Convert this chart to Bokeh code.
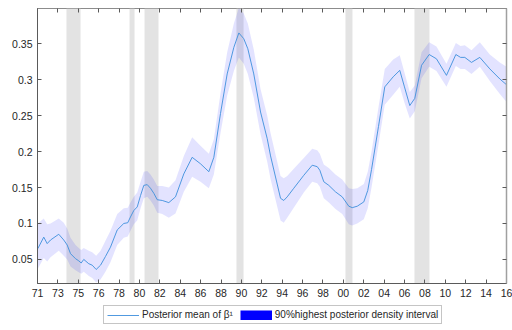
from bokeh.plotting import figure
from bokeh.layouts import column
from bokeh.models import (ColumnDataSource, Range1d, FixedTicker, LinearAxis,
                          Legend, LegendItem)
from bokeh.embed import file_html
from bokeh.resources import INLINE

# Time (decimal years) of the posterior series
years = [1971.03, 1971.60, 1971.93, 1972.25, 1973.04, 1973.52, 1973.85, 1974.17,
         1974.65, 1974.96, 1975.19, 1975.44, 1975.92, 1976.25, 1976.63, 1977.05,
         1977.52, 1978.00, 1978.65, 1979.28, 1979.66, 1979.92, 1980.24, 1980.57,
         1980.89, 1981.20, 1981.53, 1981.84, 1982.16, 1982.49, 1982.97, 1983.60,
         1984.24, 1985.04, 1985.84, 1986.64, 1987.44, 1987.92, 1988.56, 1989.20,
         1989.84, 1990.32, 1990.79, 1991.18, 1991.75, 1992.40, 1993.04, 1993.36,
         1994.32, 1994.63, 1994.96, 1995.59, 1996.55, 1997.36, 1997.84, 1998.09,
         1998.47, 1998.95, 1999.59, 2000.24, 2000.87, 2001.20, 2001.68, 2002.31,
         2002.69, 2003.05, 2003.72, 2004.32, 2005.13, 2005.76, 2006.21, 2006.72,
         2007.20, 2007.85, 2008.58, 2009.28, 2010.24, 2011.14, 2011.59, 2012.00,
         2012.64, 2013.44, 2014.40, 2015.36, 2016.00]

# Posterior mean of beta^1
beta_mean = [0.065, 0.081, 0.072, 0.077, 0.085, 0.077, 0.070, 0.058,
             0.051, 0.048, 0.045, 0.050, 0.044, 0.042, 0.036, 0.042,
             0.054, 0.067, 0.091, 0.100, 0.101, 0.109, 0.118, 0.123,
             0.139, 0.153, 0.154, 0.149, 0.142, 0.133, 0.132, 0.129,
             0.137, 0.169, 0.192, 0.183, 0.172, 0.192, 0.253, 0.308,
             0.345, 0.365, 0.357, 0.343, 0.308, 0.255, 0.218, 0.194,
             0.135, 0.132, 0.137, 0.149, 0.167, 0.181, 0.179, 0.174,
             0.158, 0.153, 0.144, 0.137, 0.124, 0.122, 0.124, 0.130,
             0.146, 0.175, 0.235, 0.290, 0.304, 0.313, 0.290, 0.264,
             0.274, 0.320, 0.335, 0.329, 0.306, 0.335, 0.331, 0.331,
             0.324, 0.331, 0.315, 0.301, 0.293]

# 90% highest posterior density interval, lower bound
hpd_lower = [0.037, 0.052, 0.047, 0.053, 0.062, 0.055, 0.050, 0.040,
             0.035, 0.032, 0.030, 0.033, 0.027, 0.024, 0.018, 0.022,
             0.033, 0.046, 0.070, 0.080, 0.082, 0.090, 0.099, 0.104,
             0.121, 0.135, 0.137, 0.132, 0.125, 0.115, 0.113, 0.108,
             0.114, 0.144, 0.165, 0.158, 0.149, 0.168, 0.226, 0.278,
             0.312, 0.331, 0.322, 0.308, 0.275, 0.224, 0.186, 0.162,
             0.104, 0.101, 0.108, 0.122, 0.143, 0.158, 0.156, 0.151,
             0.135, 0.129, 0.120, 0.113, 0.099, 0.097, 0.100, 0.106,
             0.121, 0.150, 0.210, 0.265, 0.279, 0.290, 0.268, 0.246,
             0.256, 0.302, 0.318, 0.312, 0.290, 0.319, 0.315, 0.315,
             0.308, 0.318, 0.298, 0.280, 0.269]

# 90% highest posterior density interval, upper bound
hpd_upper = [0.100, 0.107, 0.099, 0.100, 0.107, 0.101, 0.093, 0.080,
             0.070, 0.066, 0.063, 0.066, 0.062, 0.060, 0.055, 0.062,
             0.076, 0.090, 0.113, 0.121, 0.122, 0.129, 0.137, 0.143,
             0.158, 0.172, 0.173, 0.168, 0.161, 0.152, 0.152, 0.150,
             0.160, 0.194, 0.220, 0.208, 0.197, 0.217, 0.281, 0.338,
             0.378, 0.400, 0.392, 0.378, 0.342, 0.287, 0.250, 0.226,
             0.166, 0.163, 0.166, 0.176, 0.191, 0.204, 0.202, 0.197,
             0.182, 0.177, 0.168, 0.161, 0.149, 0.148, 0.149, 0.155,
             0.172, 0.200, 0.262, 0.315, 0.328, 0.334, 0.310, 0.283,
             0.292, 0.338, 0.352, 0.346, 0.322, 0.351, 0.347, 0.348,
             0.341, 0.352, 0.335, 0.324, 0.318]

# Recession periods
rec_start = [1973.78, 1979.83, 1981.27, 1990.09, 2000.55, 2007.17]
rec_end = [1975.13, 1980.31, 1982.61, 1990.77, 2001.22, 2008.61]

# Axis ticks
x_tick_labels = ["71", "73", "75", "76", "78", "80", "82", "84", "86", "88", "90",
                 "92", "94", "96", "98", "00", "02", "04", "06", "08", "10", "12",
                 "14", "16"]
y_tick_values = [0.05, 0.1, 0.15, 0.2, 0.25, 0.3, 0.35]
y_tick_labels = ["0.05", "0.1", "0.15", "0.2", "0.25", "0.3", "0.35"]

X_MIN, X_MAX = 1971.0, 2016.0
Y_MIN, Y_MAX = 0.0165, 0.399

step = (X_MAX - X_MIN) / (len(x_tick_labels) - 1)
x_tick_values = [X_MIN + i * step for i in range(len(x_tick_labels))]

FONT = "Liberation Sans"
TEXT = "#262626"
AXIS = "#5a5a5a"
LINE_COLOR = "#3d8fdc"
HPD_COLOR = "#0000ff"

p = figure(width=512, height=305, output_backend="svg", toolbar_location=None,
           x_range=Range1d(X_MIN, X_MAX), y_range=Range1d(Y_MIN, Y_MAX),
           min_border_left=37, min_border_right=6, min_border_top=8,
           min_border_bottom=22)
p.background_fill_color = "white"
p.border_fill_color = "white"
p.outline_line_color = "#8c8c8c"
p.grid.visible = False

# Recession shading
p.quad(left=rec_start, right=rec_end, bottom=Y_MIN, top=Y_MAX,
       fill_color="#e3e3e3", line_color=None)

src = ColumnDataSource(dict(x=years, mean=beta_mean, lo=hpd_lower, hi=hpd_upper))
p.varea(x="x", y1="lo", y2="hi", source=src, fill_color=HPD_COLOR, fill_alpha=0.11)
p.line(x="x", y="mean", source=src, line_color=LINE_COLOR, line_width=0.9)


def style_axis(ax, labels=True):
    ax.axis_line_color = AXIS
    ax.major_tick_line_color = AXIS
    ax.major_tick_in = 4
    ax.major_tick_out = 0
    ax.minor_tick_line_color = None
    ax.major_label_text_font = FONT
    ax.major_label_text_font_size = "10.5px"
    ax.major_label_text_color = TEXT
    ax.major_label_standoff = 5
    if not labels:
        ax.major_label_text_alpha = 0
        ax.major_label_text_font_size = "1px"
        ax.major_label_standoff = 0


xa = p.xaxis[0]
xa.ticker = FixedTicker(ticks=x_tick_values)
xa.major_label_overrides = {v: s for v, s in zip(x_tick_values, x_tick_labels)}
style_axis(xa)

ya = p.yaxis[0]
ya.ticker = FixedTicker(ticks=y_tick_values)
ya.major_label_overrides = {v: s for v, s in zip(y_tick_values, y_tick_labels)}
style_axis(ya)

top_ax = LinearAxis(ticker=FixedTicker(ticks=x_tick_values))
style_axis(top_ax, labels=False)
top_ax.axis_line_color = None
p.add_layout(top_ax, "above")

right_ax = LinearAxis(ticker=FixedTicker(ticks=y_tick_values))
style_axis(right_ax, labels=False)
right_ax.axis_line_color = "#a0a0a0"
right_ax.axis_line_width = 1.5
p.add_layout(right_ax, "right")

# Legend strip below the chart; its key glyphs reuse the series data, which
# falls outside this strip's own ranges so only the legend keys show.
leg = figure(width=512, height=25, output_backend="svg", toolbar_location=None,
             x_range=Range1d(0, 1), y_range=Range1d(0, 1),
             x_axis_type=None, y_axis_type=None,
             min_border_left=0, min_border_right=0, min_border_top=0,
             min_border_bottom=0)
leg.outline_line_color = None
leg.background_fill_color = "white"
leg.border_fill_color = "white"
leg.grid.visible = False
mean_key = leg.line(x="x", y="mean", source=src, line_color=LINE_COLOR,
                    line_width=0.9)
# a thick butt-capped stroke gives the solid swatch for the interval
hpd_key = leg.line(x="x", y="lo", source=src, line_color=HPD_COLOR,
                   line_width=10, line_cap="butt")

legend = Legend(items=[LegendItem(label="Posterior mean of β¹", renderers=[mean_key]),
                       LegendItem(label="90%highest posterior density interval",
                                  renderers=[hpd_key])],
                orientation="horizontal", location=(66, 6),
                label_text_font=FONT, label_text_font_size="10px",
                label_text_color=TEXT, glyph_width=32, glyph_height=10,
                label_standoff=3, spacing=7, padding=3, margin=0,
                background_fill_color="white", background_fill_alpha=1.0,
                border_line_color="#8c8c8c", label_height=10)
leg.add_layout(legend, "center")

open("out.html", "w").write(file_html(column(p, leg, spacing=0), INLINE))
